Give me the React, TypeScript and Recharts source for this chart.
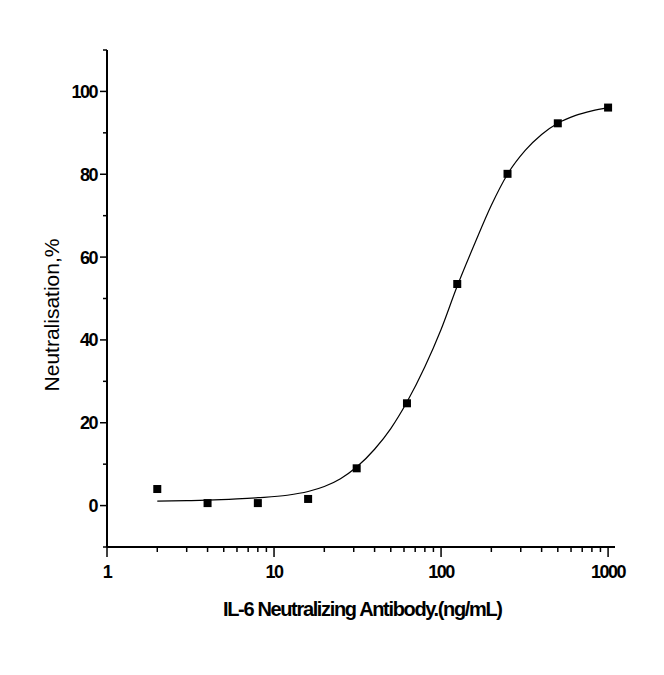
import { ComposedChart, Line, Scatter, XAxis, YAxis, Label } from 'recharts';

// measured points (dose in ng/mL, neutralisation %)
const doses = [2, 4, 8, 16, 31.25, 62.5, 125, 250, 500, 1000];
const neutralisation = [4.0, 0.6, 0.6, 1.6, 9.0, 24.7, 53.5, 80.1, 92.3, 96.1];

// fitted curve
const fitDoses = [2, 3, 4, 6, 8, 12, 16, 20, 25, 31.25, 40, 50, 62.5, 80, 100, 125, 160, 200, 250, 320, 400, 500, 640, 800, 1000];
const fitValues = [1.1, 1.2, 1.3, 1.6, 1.9, 2.5, 3.4, 4.6, 6.5, 9.3, 13.6, 18.6, 25.0, 33.5, 42.5, 53.0, 63.5, 72.5, 80.0, 85.8, 89.6, 92.3, 94.2, 95.3, 96.1];

const xTicks = [1, 2, 3, 4, 5, 6, 7, 8, 9, 10, 20, 30, 40, 50, 60, 70, 80, 90, 100, 200, 300, 400, 500, 600, 700, 800, 900, 1000];
const xMajor = [1, 10, 100, 1000];
const yTicks = [-10, 0, 10, 20, 30, 40, 50, 60, 70, 80, 90, 100, 110];
const yMajor = [0, 20, 40, 60, 80, 100];

const points = doses.map((x, i) => ({ x, y: neutralisation[i] }));
const curve = fitDoses.map((x, i) => ({ x, y: fitValues[i] }));

const FONT = "Arial, 'Liberation Sans', sans-serif";

function XTick({ x, y, payload }: any) {
  const major = xMajor.includes(payload.value);
  return (
    <g>
      <line x1={x} y1={y} x2={x} y2={y + (major ? 10 : 5)} stroke="#000" strokeWidth={1.5} />
      {major && (
        <text x={x} y={y + 31} textAnchor="middle" fontFamily={FONT} fontSize={18} fontWeight="bold" letterSpacing={-1.5} fill="#000">
          {payload.value}
        </text>
      )}
    </g>
  );
}

function YTick({ x, y, payload }: any) {
  const major = yMajor.includes(payload.value);
  return (
    <g>
      <line x1={x - (major ? 7 : 4)} y1={y} x2={x} y2={y} stroke="#000" strokeWidth={1.5} />
      {major && (
        <text x={x - 10} y={y + 6.5} textAnchor="end" fontFamily={FONT} fontSize={18} fontWeight="bold" letterSpacing={-1.5} fill="#000">
          {payload.value}
        </text>
      )}
    </g>
  );
}

const square = (p: any) => <rect x={p.cx - 4} y={p.cy - 4} width={8} height={8} fill="#000" />;

export default function App() {
  return (
    <div style={{ position: 'absolute', left: 0, top: 0, background: '#fff' }}>
      <ComposedChart width={664} height={675} margin={{ top: 50, right: 49, left: 0, bottom: 0 }}>
        <XAxis
          dataKey="x"
          type="number"
          scale="log"
          domain={[1, 1100]}
          allowDataOverflow
          ticks={xTicks}
          interval={0}
          tickSize={0}
          tickMargin={0}
          tick={<XTick />}
          height={128}
          axisLine={{ stroke: '#000', strokeWidth: 2 }}
        >
          <Label
            content={() => (
              <text x={363} y={616} textAnchor="middle" fontFamily={FONT} fontSize={20} fontWeight="bold" textLength={280} lengthAdjust="spacing" fill="#000">
                IL-6 Neutralizing Antibody.(ng/mL)
              </text>
            )}
          />
        </XAxis>
        <YAxis
          dataKey="y"
          type="number"
          domain={[-10, 110]}
          allowDataOverflow
          ticks={yTicks}
          interval={0}
          tickSize={0}
          tickMargin={0}
          tick={<YTick />}
          width={107}
          axisLine={{ stroke: '#000', strokeWidth: 2 }}
        >
          <Label
            content={() => (
              <text x={59} y={315} transform="rotate(-90 59 315)" textAnchor="middle" fontFamily={FONT} fontSize={21} fill="#000">
                Neutralisation,%
              </text>
            )}
          />
        </YAxis>
        <Line
          data={curve}
          dataKey="y"
          type="monotone"
          stroke="#000"
          strokeWidth={1.2}
          dot={false}
          activeDot={false}
          isAnimationActive={false}
        />
        <Scatter data={points} dataKey="y" fill="#000" shape={square} isAnimationActive={false} />
      </ComposedChart>
    </div>
  );
}
